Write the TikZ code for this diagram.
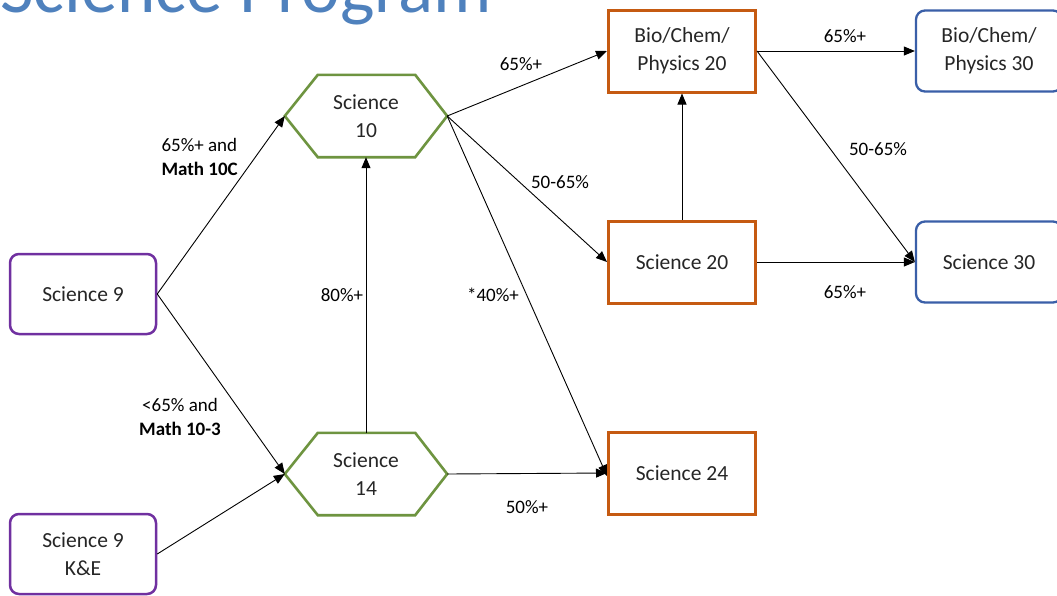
\documentclass[tikz,border=0pt]{standalone}
\usepackage{fontspec}
\setmainfont{Carlito}
\usetikzlibrary{arrows.meta}
\definecolor{cpurple}{HTML}{7030A0}
\definecolor{cgreen}{HTML}{6E9440}
\definecolor{corange}{HTML}{C55A11}
\definecolor{cblue}{HTML}{3A5FA8}
\definecolor{ctitle}{HTML}{4F81BD}
\definecolor{ctext}{HTML}{262626}
\tikzset{
  nodetext/.style={font=\fontsize{21.5}{28}\selectfont, text=ctext, align=center},
  purplebox/.style={nodetext, draw=cpurple, line width=2.5pt, rounded corners=9pt, minimum width=146pt, minimum height=80pt},
  bluebox/.style={nodetext, draw=cblue, line width=2.3pt, rounded corners=9pt, minimum width=146pt, minimum height=81pt},
  orangebox/.style={nodetext, draw=corange, line width=3pt, minimum width=147pt, minimum height=82pt},
  hexbox/.style={nodetext, minimum width=162pt, minimum height=82pt, inner sep=0pt},
  hexline/.style={draw=cgreen, line width=2.6pt, line join=miter},
  conn/.style={draw=black, line width=0.9pt, -{Triangle[length=11pt,width=9pt]}},
  lab/.style={font=\fontsize{19}{24}\selectfont, text=black, align=center},
}
\begin{document}
\begin{tikzpicture}[x=1pt,y=-1pt]
\useasboundingbox (0,0) rectangle (1057,595);
\fill[white] (0,0) rectangle (1057,595);
% title (cut off at top)
\node[anchor=base east, inner sep=0pt, text=ctitle, font=\fontsize{73}{80}\selectfont] (title) at (492,12) {Science Program};
% nodes
\node[purplebox] (s9) at (83,294) {Science 9};
\node[purplebox] (s9ke) at (83,554) {Science 9\\K\&E};
\node[hexbox] (s10) at (366,116) {Science\\10};
\node[hexbox] (s14) at (366,474) {Science\\14};
\foreach \n in {s10,s14}{
  \draw[hexline] (\n.west) -- ([xshift=33pt]\n.north west) -- ([xshift=-32pt]\n.north east) -- (\n.east) -- ([xshift=-32pt]\n.south east) -- ([xshift=33pt]\n.south west) -- cycle;
}
\node[orangebox] (b20) at (682,51) {Bio/Chem/\\Physics 20};
\node[orangebox] (s20) at (682,262) {Science 20};
\node[orangebox] (s24) at (682,473) {Science 24};
\node[bluebox] (b30) at (989,51) {Bio/Chem/\\Physics 30};
\node[bluebox] (s30) at (989,262) {Science 30};
% connectors
\draw[conn] (s9.east) -- (s10.west);
\draw[conn] (s9.east) -- (s14.west);
\draw[conn] (s9ke.east) -- (s14.west);
\draw[conn] (s14.north) -- (s10.south);
\draw[conn] (s10.east) -- (b20.west);
\draw[conn] (s10.east) -- (s20.west);
\draw[conn] (s10.east) -- ([yshift=-3pt]s24.west);
\draw[conn] (s14.east) -- (s24.west);
\draw[conn] (s20.north) -- (b20.south);
\draw[conn] (b20.east) -- (b30.west);
\draw[conn] (b20.east) -- (s30.west);
\draw[conn] (s20.east) -- (s30.west);
% labels
\node[lab, align=left, anchor=west] (l1) at (158,157) {65\%+ and\\\textbf{Math 10C}};
\node[lab] (l2) at (180,417) {<65\% and\\\textbf{Math 10-3}};
\node[lab] (l3) at (342,295) {80\%+};
\node[lab] (l4) at (521,64) {65\%+};
\node[lab] (l5) at (560,182) {50-65\%};
\node[lab] (l6) at (493,295) {*40\%+};
\node[lab] (l7) at (527,507) {50\%+};
\node[lab] (l8) at (845,36) {65\%+};
\node[lab] (l9) at (878,149) {50-65\%};
\node[lab] (l10) at (845,292) {65\%+};
\end{tikzpicture}
\end{document}
